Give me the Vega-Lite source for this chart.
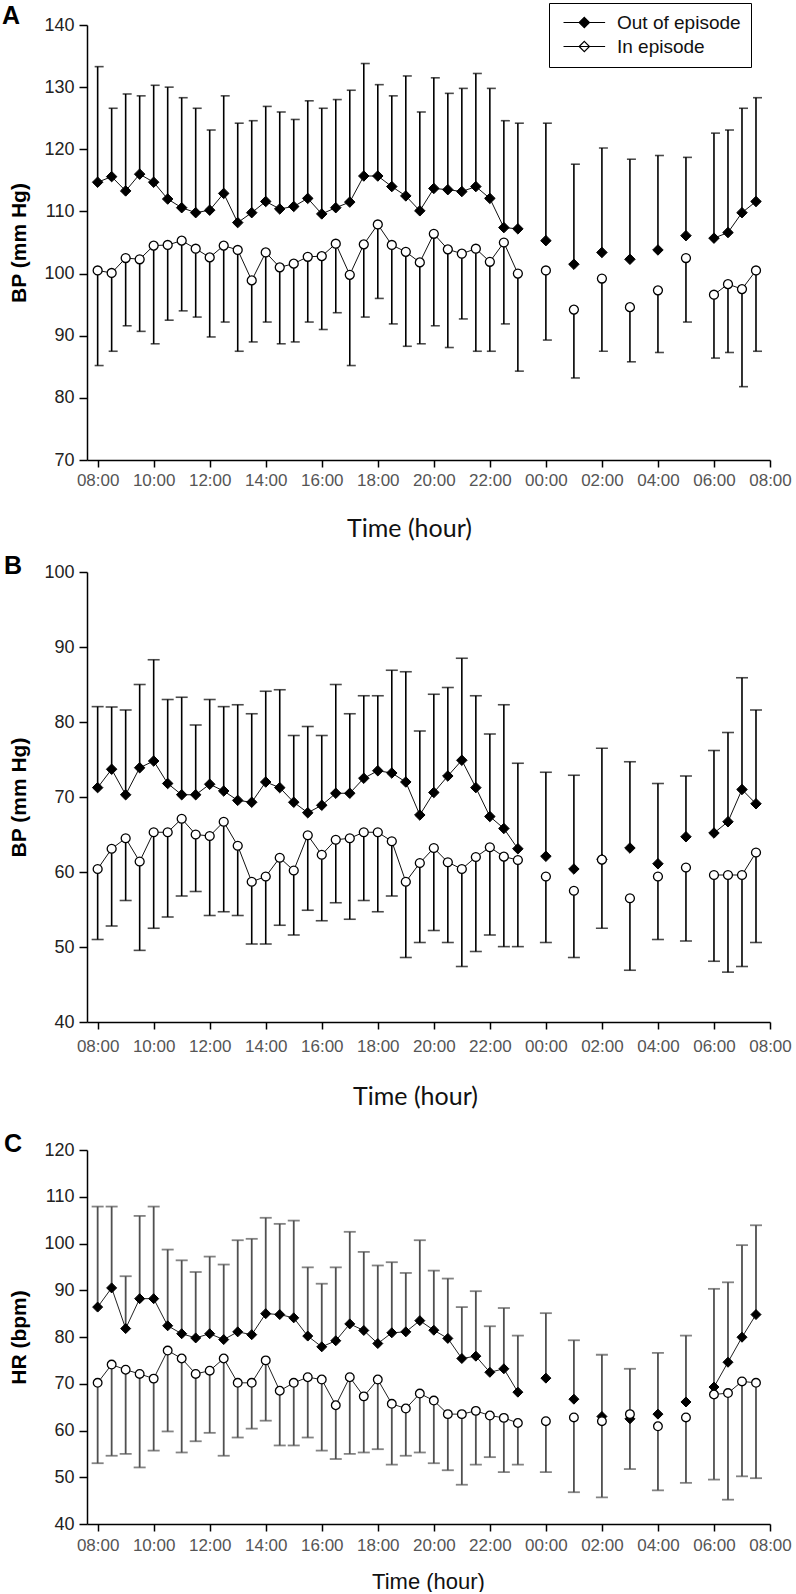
{
"$schema": "https://vega.github.io/schema/vega-lite/v6.json",
"background": "white",
"padding": {"left": 1, "top": 2, "right": 2, "bottom": 0},
"spacing": 13,
"resolve": {"scale": {"fill": "independent"}, "legend": {"fill": "independent"}},
"datasets": {
"A": [
{"t":0,"g":"O","m":114.7,"b":133.3,"s":"d"},{"t":0.5,"g":"O","m":115.6,"b":126.6,"s":"d"},{"t":1,"g":"O","m":113.3,"b":128.9,"s":"d"},{"t":1.5,"g":"O","m":116.0,"b":128.6,"s":"d"},{"t":2,"g":"O","m":114.7,"b":130.3,"s":"d"},{"t":2.5,"g":"O","m":112.0,"b":130.0,"s":"d"},{"t":3,"g":"O","m":110.6,"b":128.3,"s":"d"},{"t":3.5,"g":"O","m":109.8,"b":126.6,"s":"d"},{"t":4,"g":"O","m":110.2,"b":123.1,"s":"d"},{"t":4.5,"g":"O","m":112.9,"b":128.6,"s":"d"},{"t":5,"g":"O","m":108.2,"b":124.2,"s":"d"},{"t":5.5,"g":"O","m":109.8,"b":124.6,"s":"d"},{"t":6,"g":"O","m":111.6,"b":126.9,"s":"d"},{"t":6.5,"g":"O","m":110.4,"b":126.0,"s":"d"},{"t":7,"g":"O","m":110.8,"b":124.8,"s":"d"},{"t":7.5,"g":"O","m":112.1,"b":127.8,"s":"d"},{"t":8,"g":"O","m":109.6,"b":126.6,"s":"d"},{"t":8.5,"g":"O","m":110.6,"b":128.0,"s":"d"},{"t":9,"g":"O","m":111.5,"b":129.5,"s":"d"},{"t":9.5,"g":"O","m":115.7,"b":133.8,"s":"d"},{"t":10,"g":"O","m":115.7,"b":130.4,"s":"d"},{"t":10.5,"g":"O","m":114.0,"b":128.6,"s":"d"},{"t":11,"g":"O","m":112.5,"b":131.8,"s":"d"},{"t":11.5,"g":"O","m":110.1,"b":126.0,"s":"d"},{"t":12,"g":"O","m":113.7,"b":131.5,"s":"d"},{"t":12.5,"g":"O","m":113.5,"b":129.0,"s":"d"},{"t":13,"g":"O","m":113.2,"b":129.8,"s":"d"},{"t":13.5,"g":"O","m":114.0,"b":132.2,"s":"d"},{"t":14,"g":"O","m":112.1,"b":129.8,"s":"d"},{"t":14.5,"g":"O","m":107.4,"b":124.6,"s":"d"},{"t":15,"g":"O","m":107.2,"b":124.2,"s":"d"},
{"t":16,"g":"O","m":105.3,"b":124.2,"s":"n16"},{"t":17,"g":"O","m":101.5,"b":117.6,"s":"n17"},{"t":18,"g":"O","m":103.4,"b":120.2,"s":"n18"},{"t":19,"g":"O","m":102.3,"b":118.4,"s":"n19"},{"t":20,"g":"O","m":103.8,"b":119.0,"s":"n20"},{"t":21,"g":"O","m":106.1,"b":118.7,"s":"n21"},
{"t":22,"g":"O","m":105.7,"b":122.6,"s":"m"},{"t":22.5,"g":"O","m":106.6,"b":123.1,"s":"m"},{"t":23,"g":"O","m":109.8,"b":126.6,"s":"m"},{"t":23.5,"g":"O","m":111.6,"b":128.3,"s":"m"},
{"t":0,"g":"I","m":100.5,"b":85.2,"s":"d"},{"t":0.5,"g":"I","m":100.1,"b":87.5,"s":"d"},{"t":1,"g":"I","m":102.5,"b":91.6,"s":"d"},{"t":1.5,"g":"I","m":102.3,"b":90.7,"s":"d"},{"t":2,"g":"I","m":104.5,"b":88.7,"s":"d"},{"t":2.5,"g":"I","m":104.6,"b":92.5,"s":"d"},{"t":3,"g":"I","m":105.3,"b":94.0,"s":"d"},{"t":3.5,"g":"I","m":104.0,"b":93.0,"s":"d"},{"t":4,"g":"I","m":102.6,"b":89.8,"s":"d"},{"t":4.5,"g":"I","m":104.5,"b":92.2,"s":"d"},{"t":5,"g":"I","m":103.8,"b":87.5,"s":"d"},{"t":5.5,"g":"I","m":98.9,"b":89.0,"s":"d"},{"t":6,"g":"I","m":103.4,"b":92.2,"s":"d"},{"t":6.5,"g":"I","m":101.0,"b":88.7,"s":"d"},{"t":7,"g":"I","m":101.6,"b":89.0,"s":"d"},{"t":7.5,"g":"I","m":102.7,"b":92.2,"s":"d"},{"t":8,"g":"I","m":102.8,"b":91.0,"s":"d"},{"t":8.5,"g":"I","m":104.8,"b":93.7,"s":"d"},{"t":9,"g":"I","m":99.8,"b":85.2,"s":"d"},{"t":9.5,"g":"I","m":104.7,"b":93.0,"s":"d"},{"t":10,"g":"I","m":107.9,"b":96.0,"s":"d"},{"t":10.5,"g":"I","m":104.6,"b":91.9,"s":"d"},{"t":11,"g":"I","m":103.5,"b":88.3,"s":"d"},{"t":11.5,"g":"I","m":101.8,"b":88.7,"s":"d"},{"t":12,"g":"I","m":106.4,"b":91.6,"s":"d"},{"t":12.5,"g":"I","m":103.9,"b":88.1,"s":"d"},{"t":13,"g":"I","m":103.2,"b":92.7,"s":"d"},{"t":13.5,"g":"I","m":104.0,"b":87.5,"s":"d"},{"t":14,"g":"I","m":101.9,"b":87.5,"s":"d"},{"t":14.5,"g":"I","m":105.0,"b":91.9,"s":"d"},{"t":15,"g":"I","m":100.0,"b":84.3,"s":"d"},
{"t":16,"g":"I","m":100.5,"b":89.3,"s":"n16"},{"t":17,"g":"I","m":94.2,"b":83.2,"s":"n17"},{"t":18,"g":"I","m":99.2,"b":87.5,"s":"n18"},{"t":19,"g":"I","m":94.6,"b":85.8,"s":"n19"},{"t":20,"g":"I","m":97.3,"b":87.3,"s":"n20"},{"t":21,"g":"I","m":102.5,"b":92.2,"s":"n21"},
{"t":22,"g":"I","m":96.6,"b":86.4,"s":"m"},{"t":22.5,"g":"I","m":98.3,"b":87.3,"s":"m"},{"t":23,"g":"I","m":97.5,"b":81.8,"s":"m"},{"t":23.5,"g":"I","m":100.5,"b":87.5,"s":"m"}
],
"B": [
{"t":0,"g":"O","m":71.25,"b":82.05,"s":"d"},{"t":0.5,"g":"O","m":73.7,"b":82.0,"s":"d"},{"t":1,"g":"O","m":70.3,"b":81.6,"s":"d"},{"t":1.5,"g":"O","m":73.9,"b":85.0,"s":"d"},{"t":2,"g":"O","m":74.8,"b":88.3,"s":"d"},{"t":2.5,"g":"O","m":71.8,"b":83.0,"s":"d"},{"t":3,"g":"O","m":70.3,"b":83.3,"s":"d"},{"t":3.5,"g":"O","m":70.3,"b":79.6,"s":"d"},{"t":4,"g":"O","m":71.7,"b":83.0,"s":"d"},{"t":4.5,"g":"O","m":70.8,"b":82.05,"s":"d"},{"t":5,"g":"O","m":69.55,"b":82.3,"s":"d"},{"t":5.5,"g":"O","m":69.3,"b":81.1,"s":"d"},{"t":6,"g":"O","m":72.0,"b":84.1,"s":"d"},{"t":6.5,"g":"O","m":71.25,"b":84.3,"s":"d"},{"t":7,"g":"O","m":69.3,"b":78.2,"s":"d"},{"t":7.5,"g":"O","m":67.9,"b":79.4,"s":"d"},{"t":8,"g":"O","m":68.9,"b":78.2,"s":"d"},{"t":8.5,"g":"O","m":70.5,"b":85.0,"s":"d"},{"t":9,"g":"O","m":70.5,"b":81.1,"s":"d"},{"t":9.5,"g":"O","m":72.5,"b":83.5,"s":"d"},{"t":10,"g":"O","m":73.5,"b":83.5,"s":"d"},{"t":10.5,"g":"O","m":73.2,"b":86.9,"s":"d"},{"t":11,"g":"O","m":72.0,"b":86.7,"s":"d"},{"t":11.5,"g":"O","m":67.6,"b":78.8,"s":"d"},{"t":12,"g":"O","m":70.6,"b":83.7,"s":"d"},{"t":12.5,"g":"O","m":72.8,"b":84.6,"s":"d"},{"t":13,"g":"O","m":74.9,"b":88.5,"s":"d"},{"t":13.5,"g":"O","m":71.25,"b":83.5,"s":"d"},{"t":14,"g":"O","m":67.4,"b":78.4,"s":"d"},{"t":14.5,"g":"O","m":65.8,"b":82.3,"s":"d"},{"t":15,"g":"O","m":63.1,"b":74.5,"s":"d"},
{"t":16,"g":"O","m":62.1,"b":73.3,"s":"n16"},{"t":17,"g":"O","m":60.4,"b":72.9,"s":"n17"},{"t":18,"g":"O","m":61.7,"b":76.5,"s":"n18"},{"t":19,"g":"O","m":63.2,"b":74.7,"s":"n19"},{"t":20,"g":"O","m":61.1,"b":71.8,"s":"n20"},{"t":21,"g":"O","m":64.7,"b":72.8,"s":"n21"},
{"t":22,"g":"O","m":65.2,"b":76.2,"s":"m"},{"t":22.5,"g":"O","m":66.7,"b":78.6,"s":"m"},{"t":23,"g":"O","m":71.0,"b":85.9,"s":"m"},{"t":23.5,"g":"O","m":69.1,"b":81.6,"s":"m"},
{"t":0,"g":"I","m":60.4,"b":51.0,"s":"d"},{"t":0.5,"g":"I","m":63.1,"b":52.8,"s":"d"},{"t":1,"g":"I","m":64.5,"b":56.2,"s":"d"},{"t":1.5,"g":"I","m":61.4,"b":49.55,"s":"d"},{"t":2,"g":"I","m":65.3,"b":52.5,"s":"d"},{"t":2.5,"g":"I","m":65.3,"b":54.0,"s":"d"},{"t":3,"g":"I","m":67.1,"b":56.8,"s":"d"},{"t":3.5,"g":"I","m":65.0,"b":57.4,"s":"d"},{"t":4,"g":"I","m":64.8,"b":54.2,"s":"d"},{"t":4.5,"g":"I","m":66.7,"b":54.7,"s":"d"},{"t":5,"g":"I","m":63.5,"b":54.2,"s":"d"},{"t":5.5,"g":"I","m":58.7,"b":50.4,"s":"d"},{"t":6,"g":"I","m":59.4,"b":50.4,"s":"d"},{"t":6.5,"g":"I","m":61.9,"b":52.9,"s":"d"},{"t":7,"g":"I","m":60.2,"b":51.6,"s":"d"},{"t":7.5,"g":"I","m":64.9,"b":54.9,"s":"d"},{"t":8,"g":"I","m":62.3,"b":53.5,"s":"d"},{"t":8.5,"g":"I","m":64.3,"b":55.9,"s":"d"},{"t":9,"g":"I","m":64.5,"b":53.7,"s":"d"},{"t":9.5,"g":"I","m":65.3,"b":56.2,"s":"d"},{"t":10,"g":"I","m":65.3,"b":54.7,"s":"d"},{"t":10.5,"g":"I","m":64.1,"b":56.8,"s":"d"},{"t":11,"g":"I","m":58.7,"b":48.6,"s":"d"},{"t":11.5,"g":"I","m":61.2,"b":50.6,"s":"d"},{"t":12,"g":"I","m":63.2,"b":52.2,"s":"d"},{"t":12.5,"g":"I","m":61.3,"b":50.6,"s":"d"},{"t":13,"g":"I","m":60.4,"b":47.4,"s":"d"},{"t":13.5,"g":"I","m":62.0,"b":49.4,"s":"d"},{"t":14,"g":"I","m":63.3,"b":51.6,"s":"d"},{"t":14.5,"g":"I","m":62.05,"b":50.05,"s":"d"},{"t":15,"g":"I","m":61.6,"b":50.05,"s":"d"},
{"t":16,"g":"I","m":59.4,"b":50.6,"s":"n16"},{"t":17,"g":"I","m":57.5,"b":48.6,"s":"n17"},{"t":18,"g":"I","m":61.65,"b":52.5,"s":"n18"},{"t":19,"g":"I","m":56.5,"b":46.9,"s":"n19"},{"t":20,"g":"I","m":59.4,"b":51.0,"s":"n20"},{"t":21,"g":"I","m":60.6,"b":50.8,"s":"n21"},
{"t":22,"g":"I","m":59.6,"b":48.1,"s":"m"},{"t":22.5,"g":"I","m":59.6,"b":46.65,"s":"m"},{"t":23,"g":"I","m":59.6,"b":47.4,"s":"m"},{"t":23.5,"g":"I","m":62.6,"b":50.6,"s":"m"}
],
"C": [
{"t":0,"g":"O","m":86.4,"b":107.9,"s":"d"},{"t":0.5,"g":"O","m":90.5,"b":107.9,"s":"d"},{"t":1,"g":"O","m":81.8,"b":93.0,"s":"d"},{"t":1.5,"g":"O","m":88.2,"b":105.9,"s":"d"},{"t":2,"g":"O","m":88.2,"b":107.9,"s":"d"},{"t":2.5,"g":"O","m":82.4,"b":98.7,"s":"d"},{"t":3,"g":"O","m":80.7,"b":96.4,"s":"d"},{"t":3.5,"g":"O","m":79.8,"b":93.9,"s":"d"},{"t":4,"g":"O","m":80.7,"b":97.2,"s":"d"},{"t":4.5,"g":"O","m":79.45,"b":95.5,"s":"d"},{"t":5,"g":"O","m":81.1,"b":100.7,"s":"d"},{"t":5.5,"g":"O","m":80.5,"b":101.0,"s":"d"},{"t":6,"g":"O","m":85.0,"b":105.5,"s":"d"},{"t":6.5,"g":"O","m":84.8,"b":104.2,"s":"d"},{"t":7,"g":"O","m":84.1,"b":104.9,"s":"d"},{"t":7.5,"g":"O","m":80.2,"b":94.9,"s":"d"},{"t":8,"g":"O","m":77.9,"b":91.4,"s":"d"},{"t":8.5,"g":"O","m":79.2,"b":94.9,"s":"d"},{"t":9,"g":"O","m":82.8,"b":102.5,"s":"d"},{"t":9.5,"g":"O","m":81.4,"b":98.2,"s":"d"},{"t":10,"g":"O","m":78.6,"b":95.3,"s":"d"},{"t":10.5,"g":"O","m":80.9,"b":96.0,"s":"d"},{"t":11,"g":"O","m":81.1,"b":93.7,"s":"d"},{"t":11.5,"g":"O","m":83.5,"b":100.7,"s":"d"},{"t":12,"g":"O","m":81.45,"b":94.2,"s":"d"},{"t":12.5,"g":"O","m":79.7,"b":92.5,"s":"d"},{"t":13,"g":"O","m":75.4,"b":86.4,"s":"d"},{"t":13.5,"g":"O","m":75.9,"b":89.8,"s":"d"},{"t":14,"g":"O","m":72.45,"b":82.3,"s":"d"},{"t":14.5,"g":"O","m":73.2,"b":86.2,"s":"d"},{"t":15,"g":"O","m":68.2,"b":80.3,"s":"d"},
{"t":16,"g":"O","m":71.2,"b":85.1,"s":"n16"},{"t":17,"g":"O","m":66.7,"b":79.3,"s":"n17"},{"t":18,"g":"O","m":63.0,"b":76.2,"s":"n18"},{"t":19,"g":"O","m":62.5,"b":73.2,"s":"n19"},{"t":20,"g":"O","m":63.5,"b":76.6,"s":"n20"},{"t":21,"g":"O","m":66.1,"b":80.3,"s":"n21"},
{"t":22,"g":"O","m":69.3,"b":90.3,"s":"m"},{"t":22.5,"g":"O","m":74.6,"b":91.7,"s":"m"},{"t":23,"g":"O","m":79.95,"b":99.65,"s":"m"},{"t":23.5,"g":"O","m":84.8,"b":103.9,"s":"m"},
{"t":0,"g":"I","m":70.2,"b":53.0,"s":"d"},{"t":0.5,"g":"I","m":74.1,"b":54.6,"s":"d"},{"t":1,"g":"I","m":73.0,"b":55.0,"s":"d"},{"t":1.5,"g":"I","m":72.1,"b":52.1,"s":"d"},{"t":2,"g":"I","m":71.1,"b":55.7,"s":"d"},{"t":2.5,"g":"I","m":77.1,"b":59.8,"s":"d"},{"t":3,"g":"I","m":75.4,"b":55.3,"s":"d"},{"t":3.5,"g":"I","m":72.1,"b":57.7,"s":"d"},{"t":4,"g":"I","m":72.8,"b":59.5,"s":"d"},{"t":4.5,"g":"I","m":75.4,"b":54.6,"s":"d"},{"t":5,"g":"I","m":70.2,"b":58.5,"s":"d"},{"t":5.5,"g":"I","m":70.2,"b":60.4,"s":"d"},{"t":6,"g":"I","m":75.0,"b":62.1,"s":"d"},{"t":6.5,"g":"I","m":68.5,"b":56.8,"s":"d"},{"t":7,"g":"I","m":70.2,"b":56.8,"s":"d"},{"t":7.5,"g":"I","m":71.4,"b":58.5,"s":"d"},{"t":8,"g":"I","m":70.9,"b":55.7,"s":"d"},{"t":8.5,"g":"I","m":65.4,"b":53.9,"s":"d"},{"t":9,"g":"I","m":71.4,"b":55.0,"s":"d"},{"t":9.5,"g":"I","m":67.3,"b":55.3,"s":"d"},{"t":10,"g":"I","m":70.9,"b":56.0,"s":"d"},{"t":10.5,"g":"I","m":65.7,"b":52.7,"s":"d"},{"t":11,"g":"I","m":64.7,"b":54.6,"s":"d"},{"t":11.5,"g":"I","m":67.9,"b":55.3,"s":"d"},{"t":12,"g":"I","m":66.4,"b":53.0,"s":"d"},{"t":12.5,"g":"I","m":63.5,"b":51.5,"s":"d"},{"t":13,"g":"I","m":63.5,"b":48.4,"s":"d"},{"t":13.5,"g":"I","m":64.2,"b":52.7,"s":"d"},{"t":14,"g":"I","m":63.2,"b":54.3,"s":"d"},{"t":14.5,"g":"I","m":62.7,"b":51.1,"s":"d"},{"t":15,"g":"I","m":61.6,"b":52.7,"s":"d"},
{"t":16,"g":"I","m":62.0,"b":51.1,"s":"n16"},{"t":17,"g":"I","m":62.8,"b":46.8,"s":"n17"},{"t":18,"g":"I","m":62.0,"b":45.7,"s":"n18"},{"t":19,"g":"I","m":63.5,"b":51.75,"s":"n19"},{"t":20,"g":"I","m":60.9,"b":47.2,"s":"n20"},{"t":21,"g":"I","m":62.8,"b":48.8,"s":"n21"},
{"t":22,"g":"I","m":67.7,"b":49.5,"s":"m"},{"t":22.5,"g":"I","m":68.0,"b":45.2,"s":"m"},{"t":23,"g":"I","m":70.5,"b":50.2,"s":"m"},{"t":23.5,"g":"I","m":70.2,"b":49.8,"s":"m"}
]
},
"vconcat": [
{
"width": 683, "height": 435,
"data": {"name": "A"},
"title": {"text": "A", "anchor": "start", "frame": "bounds", "fontSize": 25, "fontWeight": "bold", "font": "Liberation Sans", "baseline": "alphabetic", "offset": -46, "dx": -7, "color": "#000"},
"encoding": {
"x": {"field": "t", "type": "quantitative", "scale": {"domain": [-0.38, 24], "nice": false, "zero": false},
"axis": {"values": [0,2,4,6,8,10,12,14,16,18,20,22,24], "labelExpr": "(((datum.value + 8) % 24) < 10 ? '0' : '') + ((datum.value + 8) % 24) + ':00'", "title": "Time (hour)", "titleFont": "Lato", "titleFontSize": 25, "titleX": 322, "titleY": 76, "labelPadding": 5}},
"y": {"field": "m", "type": "quantitative", "title": "BP (mm Hg)", "scale": {"domain": [70, 140], "nice": false, "zero": false}, "axis": {"values": [70,80,90,100,110,120,130,140]}}
},
"layer": [
{"mark": {"type": "rule", "color": "#000", "strokeWidth": 1.6}, "encoding": {"y2": {"field": "b"}}},
{"mark": {"type": "tick", "orient": "horizontal", "size": 9, "thickness": 1.6, "color": "#000", "xOffset": 1.5}, "encoding": {"y": {"field": "b", "type": "quantitative", "title": "BP (mm Hg)"}}},
{"mark": {"type": "line", "color": "#111", "strokeWidth": 1}, "encoding": {"detail": [{"field": "g"}, {"field": "s"}]}},
{"transform": [{"filter": "datum.g == 'O'"}], "mark": {"type": "point", "shape": "diamond", "filled": true, "size": 110, "stroke": "#000", "strokeWidth": 1, "opacity": 1},
"encoding": {"fill": {"field": "g", "type": "nominal", "scale": {"domain": ["O", "I"], "range": ["#000", "#fff"]},
"legend": {"title": null, "orient": "none", "legendX": 462, "legendY": -22, "strokeColor": "#000", "padding": 10, "symbolType": "M-0.6,0H4.4M1.9,-0.62L2.52,0L1.9,0.62L1.28,0Z", "symbolSize": 277, "symbolStrokeColor": "#000", "symbolStrokeWidth": 1.2, "labelFont": "Liberation Sans", "labelFontSize": 19, "labelColor": "#111", "labelOffset": 39, "rowPadding": 4, "labelExpr": "datum.label == 'O' ? 'Out of episode' : 'In episode'"}}}},
{"transform": [{"filter": "datum.g == 'I'"}], "mark": {"type": "point", "shape": "circle", "filled": true, "size": 80, "stroke": "#000", "strokeWidth": 1.3, "opacity": 1},
"encoding": {"fill": {"field": "g", "type": "nominal"}}}
]
},
{
"width": 683, "height": 450,
"data": {"name": "B"},
"title": {"text": "B", "anchor": "start", "frame": "bounds", "fontSize": 25, "fontWeight": "bold", "font": "Liberation Sans", "baseline": "alphabetic", "offset": -36, "dx": -5, "color": "#000"},
"encoding": {
"x": {"field": "t", "type": "quantitative", "scale": {"domain": [-0.38, 24], "nice": false, "zero": false},
"axis": {"values": [0,2,4,6,8,10,12,14,16,18,20,22,24], "labelExpr": "(((datum.value + 8) % 24) < 10 ? '0' : '') + ((datum.value + 8) % 24) + ':00'", "title": ["Time (hour)", " "], "titleLineHeight": 10, "titleFont": "Lato", "titleFontSize": 25, "titleX": 328, "titleY": 82, "labelPadding": 9}},
"y": {"field": "m", "type": "quantitative", "title": "BP (mm Hg)", "scale": {"domain": [40, 100], "nice": false, "zero": false}, "axis": {"values": [40,50,60,70,80,90,100]}}
},
"layer": [
{"mark": {"type": "rule", "color": "#000", "strokeWidth": 1.6}, "encoding": {"y2": {"field": "b"}}},
{"mark": {"type": "tick", "orient": "horizontal", "size": 12, "thickness": 1.6, "color": "#000"}, "encoding": {"y": {"field": "b", "type": "quantitative", "title": "BP (mm Hg)"}}},
{"mark": {"type": "line", "color": "#111", "strokeWidth": 1}, "encoding": {"detail": [{"field": "g"}, {"field": "s"}]}},
{"transform": [{"filter": "datum.g == 'O'"}], "mark": {"type": "point", "shape": "diamond", "filled": true, "size": 110, "fill": "#000", "stroke": "#000", "strokeWidth": 1, "opacity": 1}},
{"transform": [{"filter": "datum.g == 'I'"}], "mark": {"type": "point", "shape": "circle", "filled": true, "size": 80, "fill": "#fff", "stroke": "#000", "strokeWidth": 1.3, "opacity": 1}}
]
},
{
"width": 683, "height": 374,
"data": {"name": "C"},
"title": {"text": "C", "anchor": "start", "frame": "bounds", "fontSize": 25, "fontWeight": "bold", "font": "Liberation Sans", "baseline": "alphabetic", "offset": -36, "dx": -5, "color": "#000"},
"encoding": {
"x": {"field": "t", "type": "quantitative", "scale": {"domain": [-0.38, 24], "nice": false, "zero": false},
"axis": {"values": [0,2,4,6,8,10,12,14,16,18,20,22,24], "labelExpr": "(((datum.value + 8) % 24) < 10 ? '0' : '') + ((datum.value + 8) % 24) + ':00'", "title": "Time (hour)", "titleFont": "Liberation Sans Narrow, Liberation Sans", "titleFontSize": 22, "titleX": 341, "titleY": 64, "labelPadding": 6.5}},
"y": {"field": "m", "type": "quantitative", "title": "HR (bpm)", "scale": {"domain": [40, 120], "nice": false, "zero": false}, "axis": {"values": [40,50,60,70,80,90,100,110,120]}}
},
"layer": [
{"mark": {"type": "rule", "color": "#505050", "strokeWidth": 1.8}, "encoding": {"y2": {"field": "b"}}},
{"mark": {"type": "tick", "orient": "horizontal", "size": 12, "thickness": 1.8, "color": "#505050"}, "encoding": {"y": {"field": "b", "type": "quantitative", "title": "HR (bpm)"}}},
{"mark": {"type": "line", "color": "#222", "strokeWidth": 1}, "encoding": {"detail": [{"field": "g"}, {"field": "s"}]}},
{"transform": [{"filter": "datum.g == 'O'"}], "mark": {"type": "point", "shape": "diamond", "filled": true, "size": 100, "fill": "#000", "stroke": "#000", "strokeWidth": 1, "opacity": 1}},
{"transform": [{"filter": "datum.g == 'I'"}], "mark": {"type": "point", "shape": "circle", "filled": true, "size": 75, "fill": "#fff", "stroke": "#000", "strokeWidth": 1.3, "opacity": 1}}
]
}
],
"config": {
"view": {"stroke": null},
"axis": {"grid": false, "domainColor": "#000", "tickColor": "#000", "domainWidth": 1.5, "tickWidth": 1.5, "labelFont": "Liberation Sans", "titleFont": "Liberation Sans", "labelFlush": false, "labelOverlap": false},
"axisY": {"tickSize": 8, "labelPadding": 5, "labelFontSize": 18, "labelColor": "#222", "titleFontSize": 21, "titleFontWeight": "bold", "titleColor": "#000", "titlePadding": 14},
"axisX": {"tickSize": 7, "labelFontSize": 17, "labelColor": "#555", "titleFontWeight": "normal", "titleColor": "#111", "titleBaseline": "alphabetic"}
}
}
